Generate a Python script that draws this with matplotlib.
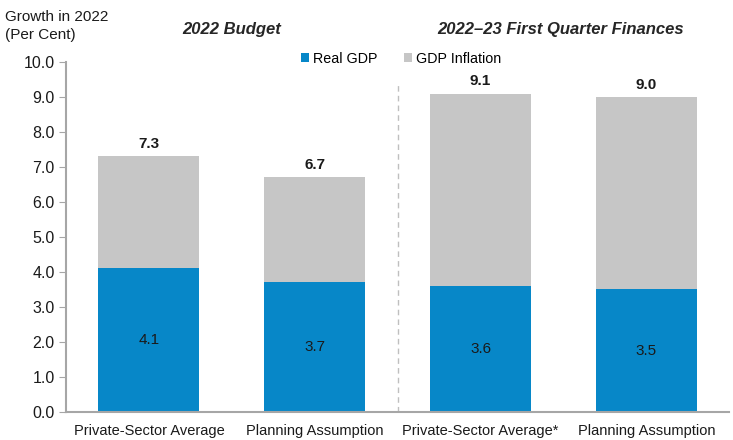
import numpy as np
import matplotlib.pyplot as plt

plt.rcParams['font.family'] = ['Liberation Sans', 'DejaVu Sans']

categories = ['Private-Sector Average', 'Planning Assumption',
              'Private-Sector Average*', 'Planning Assumption']
real_gdp = [4.1, 3.7, 3.6, 3.5]
gdp_inflation = [3.2, 3.0, 5.5, 5.5]
totals = [7.3, 6.7, 9.1, 9.0]
group_titles = ['2022 Budget', '2022\u201323 First Quarter Finances']

blue = '#0787c8'
grey = '#c6c6c6'
axis_grey = '#a6a6a6'

fig = plt.figure(figsize=(7.33, 4.4), dpi=100)
ax = fig.add_axes([0.09, 0.064, 0.905, 0.795])

x = np.arange(len(categories))
w = 0.61
ax.bar(x, real_gdp, w, color=blue, label='Real GDP', zorder=2)
ax.bar(x, gdp_inflation, w, bottom=real_gdp, color=grey, label='GDP Inflation', zorder=2)

for xi, r, t in zip(x, real_gdp, totals):
    ax.text(xi, r / 2, f'{r:.1f}', ha='center', va='center', fontsize=11, color='#1a1a1a')
    ax.text(xi, t + 0.15, f'{t:.1f}', ha='center', va='bottom', fontsize=11,
            fontweight='bold', color='#1a1a1a')

# divider between the two groups
ax.plot([1.5, 1.5], [0, 9.35], ls=(0, (4, 3)), color='#bfbfbf', lw=1, clip_on=False)

ax.set_xlim(-0.5, 3.5)
ax.set_ylim(0, 10)
ax.set_yticks(np.arange(0, 10.01, 1.0))
ax.set_yticklabels([f'{v:.1f}' for v in np.arange(0, 10.01, 1.0)])
ax.set_xticks(x)
ax.set_xticklabels(categories)
ax.tick_params(axis='y', length=5, color=axis_grey, labelsize=11.5, labelcolor='#1a1a1a', pad=3)
ax.tick_params(axis='x', length=0, labelsize=10.5, labelcolor='#1a1a1a', pad=8.5)
for s in ['top', 'right']:
    ax.spines[s].set_visible(False)
for s in ['left', 'bottom']:
    ax.spines[s].set_color(axis_grey)
    ax.spines[s].set_linewidth(1.5)

ax.text(0.5, 10.93, group_titles[0], ha='center', va='center', fontsize=12,
        fontweight='bold', style='italic', color='#262626')
ax.text(2.48, 10.93, group_titles[1], ha='center', va='center', fontsize=12,
        fontweight='bold', style='italic', color='#262626')

fig.text(0.007, 0.978, 'Growth in 2022\n(Per Cent)', ha='left', va='top', fontsize=11,
         color='#1a1a1a', linespacing=1.4)

ax.legend(loc='center', bbox_to_anchor=(0.505, 1.01), ncol=2, frameon=False,
          fontsize=10.3, handlelength=0.55, handleheight=0.55, handletextpad=0.25,
          columnspacing=1.9)

fig.savefig('out.png', dpi=100)
